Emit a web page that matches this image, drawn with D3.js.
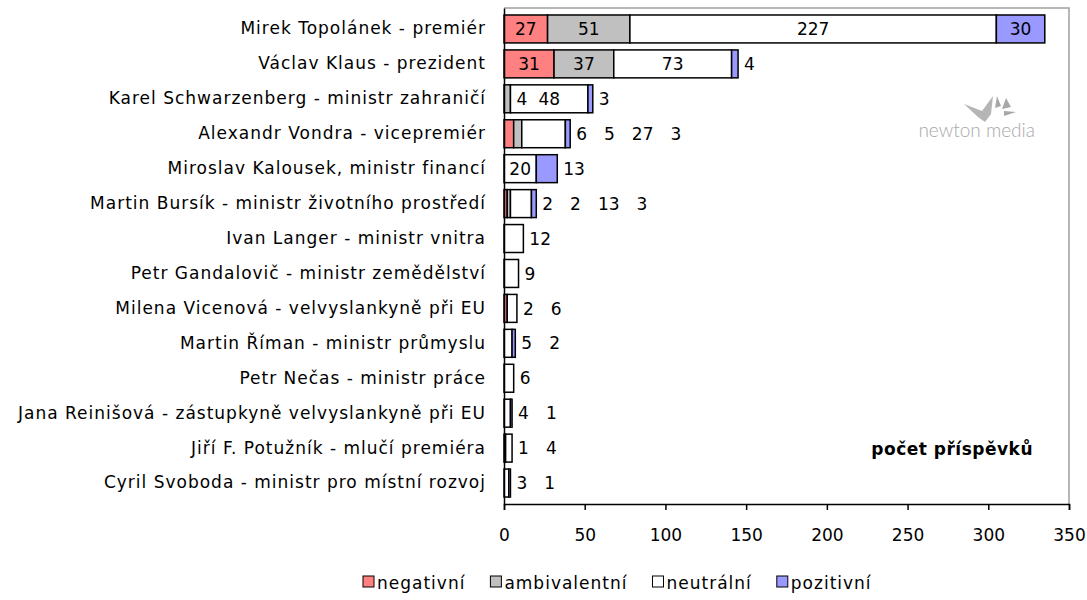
<!doctype html>
<html>
<head>
<meta charset="utf-8">
<style>
body { margin: 0; background: white; font-family: "DejaVu Sans", sans-serif; }
svg text { font-family: "DejaVu Sans", sans-serif; }
</style>
<script src="https://cdnjs.cloudflare.com/ajax/libs/d3/7.8.5/d3.min.js"></script>
</head>
<body>
<div id="chart"></div>
<script>
// chart values
var names = [
  "Mirek Topolánek - premiér",
  "Václav Klaus - prezident",
  "Karel Schwarzenberg - ministr zahraničí",
  "Alexandr Vondra - vicepremiér",
  "Miroslav Kalousek, ministr financí",
  "Martin Bursík - ministr životního prostředí",
  "Ivan Langer - ministr vnitra",
  "Petr Gandalovič - ministr zemědělství",
  "Milena Vicenová - velvyslankyně při EU",
  "Martin Říman - ministr průmyslu",
  "Petr Nečas - ministr práce",
  "Jana Reinišová - zástupkyně velvyslankyně při EU",
  "Jiří F. Potužník - mlučí premiéra",
  "Cyril Svoboda - ministr pro místní rozvoj"
];
var negativni    = [27, 31, 0, 6, 0, 2, 0, 0, 2, 0, 0, 0, 1, 0];
var ambivalentni = [51, 37, 4, 5, 0, 2, 0, 0, 0, 0, 0, 0, 0, 0];
var neutralni    = [227, 73, 48, 27, 20, 13, 12, 9, 6, 5, 6, 4, 4, 3];
var pozitivni    = [30, 4, 3, 3, 13, 3, 0, 0, 0, 2, 0, 1, 0, 1];
var seriesNames = ["negativní", "ambivalentní", "neutrální", "pozitivní"];
var xTicks = [0, 50, 100, 150, 200, 250, 300, 350];

var colors = ["#ff8080", "#c0c0c0", "#ffffff", "#9999ff"];
var keys = ["neg", "amb", "neu", "poz"];

var table = names.map(function (n, i) {
  return { name: n, neg: negativni[i], amb: ambivalentni[i], neu: neutralni[i], poz: pozitivni[i] };
});

var width = 1087, height = 600;
var plotLeft = 504, plotRight = 1069, plotTop = 8, plotBottom = 504;

var svg = d3.select("#chart").append("svg")
  .attr("width", width).attr("height", height);

var x = d3.scaleLinear().domain([0, 350]).range([plotLeft, plotRight]);
var y = d3.scaleBand().domain(names).range([plotTop, plotBottom]).padding(0.2);

// plot frame (gray top / right)
svg.append("path")
  .attr("d", "M" + plotLeft + "," + plotTop + "H" + plotRight + "V" + plotBottom)
  .attr("fill", "none").attr("stroke", "#a0a0a0").attr("stroke-width", 1.5);

// logo
var logo = svg.append("g").attr("fill", "#a8a8a8");
logo.append("path").attr("d", "M964,104 L982,111 L993,96 L991,114 L985,122 L978,117 Z").attr("opacity", 0.85);
logo.append("path").attr("d", "M997,96 L1001,106 L995,108 Z M1006,98 L1011,107 L1002,109 Z M1004,111 L1016,112 L1004,116 Z");
logo.append("text").attr("x", 1035).attr("y", 137).attr("text-anchor", "end")
  .attr("font-size", 19).attr("fill", "#a8a8a8").attr("font-weight", 300)
  .style("font-family", "Lato, sans-serif").text("newton media");

var stacked = d3.stack().keys(keys)(table);

var layers = svg.selectAll(".layer").data(stacked).enter().append("g")
  .attr("class", "layer")
  .attr("fill", function (d, i) { return colors[i]; });

layers.selectAll("rect")
  .data(function (d) { return d.filter(function (s) { return s[1] - s[0] > 0; }); })
  .enter().append("rect")
  .attr("x", function (d) { return x(d[0]); })
  .attr("y", function (d) { return y(d.data.name); })
  .attr("width", function (d) { return x(d[1]) - x(d[0]); })
  .attr("height", y.bandwidth())
  .attr("stroke", "black").attr("stroke-width", 1.5);

// data labels: inside the segment when it fits, otherwise after the bar
var labelG = svg.append("g").attr("font-size", 17).attr("fill", "black");
var gap = 17;
table.forEach(function (row) {
  var cy = y(row.name) + y.bandwidth() / 2;
  var segs = [], start = 0;
  keys.forEach(function (k) {
    if (row[k] > 0) {
      segs.push({ v: row[k], x0: x(start), x1: x(start + row[k]) });
      start += row[k];
    }
  });
  segs.forEach(function (s) {
    s.t = labelG.append("text").attr("dy", "0.36em").attr("y", cy).text(s.v);
    s.w = s.t.node().getComputedTextLength();
    s.fits = s.w + 8 <= s.x1 - s.x0;
  });
  var nextX = x(start) + 6, outside = false;
  for (var i = 0; i < segs.length; i++) {
    var s = segs[i], nx = segs[i + 1];
    if (!outside && s.fits) {
      s.t.attr("x", (s.x0 + s.x1) / 2).attr("text-anchor", "middle");
    } else if (!outside && nx && nx.fits && s.w + gap + nx.w + 10 <= nx.x1 - nx.x0) {
      // small label shares the next wide segment
      var c = (nx.x0 + nx.x1) / 2;
      s.t.attr("x", c - nx.w / 2 - 11).attr("text-anchor", "end");
    } else {
      outside = true;
      s.t.attr("x", nextX);
      nextX += s.w + gap;
    }
  }
});

// axes
svg.append("g").attr("transform", "translate(0," + plotBottom + ")")
  .call(d3.axisBottom(x).tickValues(xTicks).tickSize(6).tickPadding(19))
  .call(function (g) {
    g.selectAll("text").attr("font-size", 17).attr("fill", "black").style("font-family", "DejaVu Sans, sans-serif");
    g.select(".domain").attr("stroke", "black").attr("stroke-width", 1.5);
    g.selectAll(".tick line").attr("stroke", "black").attr("stroke-width", 1.5);
  });

svg.append("g").attr("transform", "translate(" + plotLeft + ",0)")
  .call(d3.axisLeft(y).tickSize(0).tickPadding(18))
  .call(function (g) {
    g.selectAll("text").attr("font-size", 17).attr("letter-spacing", 1).attr("fill", "black")
      .style("font-family", "DejaVu Sans, sans-serif");
    g.select(".domain").attr("stroke", "black").attr("stroke-width", 1.5);
  });

svg.append("text").attr("x", 1033).attr("y", 455).attr("text-anchor", "end")
  .attr("font-size", 17).attr("letter-spacing", 0.5).attr("font-weight", "bold").text("počet příspěvků");

// legend
var legend = svg.append("g").attr("font-size", 17).attr("letter-spacing", 1);
var lx = 363;
seriesNames.forEach(function (s, i) {
  legend.append("rect").attr("x", lx).attr("y", 576).attr("width", 11).attr("height", 11)
    .attr("fill", colors[i]).attr("stroke", "black").attr("stroke-width", 1);
  var t = legend.append("text").attr("x", lx + 14).attr("y", 589).text(s);
  lx += 14 + t.node().getComputedTextLength() + 25;
});
</script>
</body>
</html>
